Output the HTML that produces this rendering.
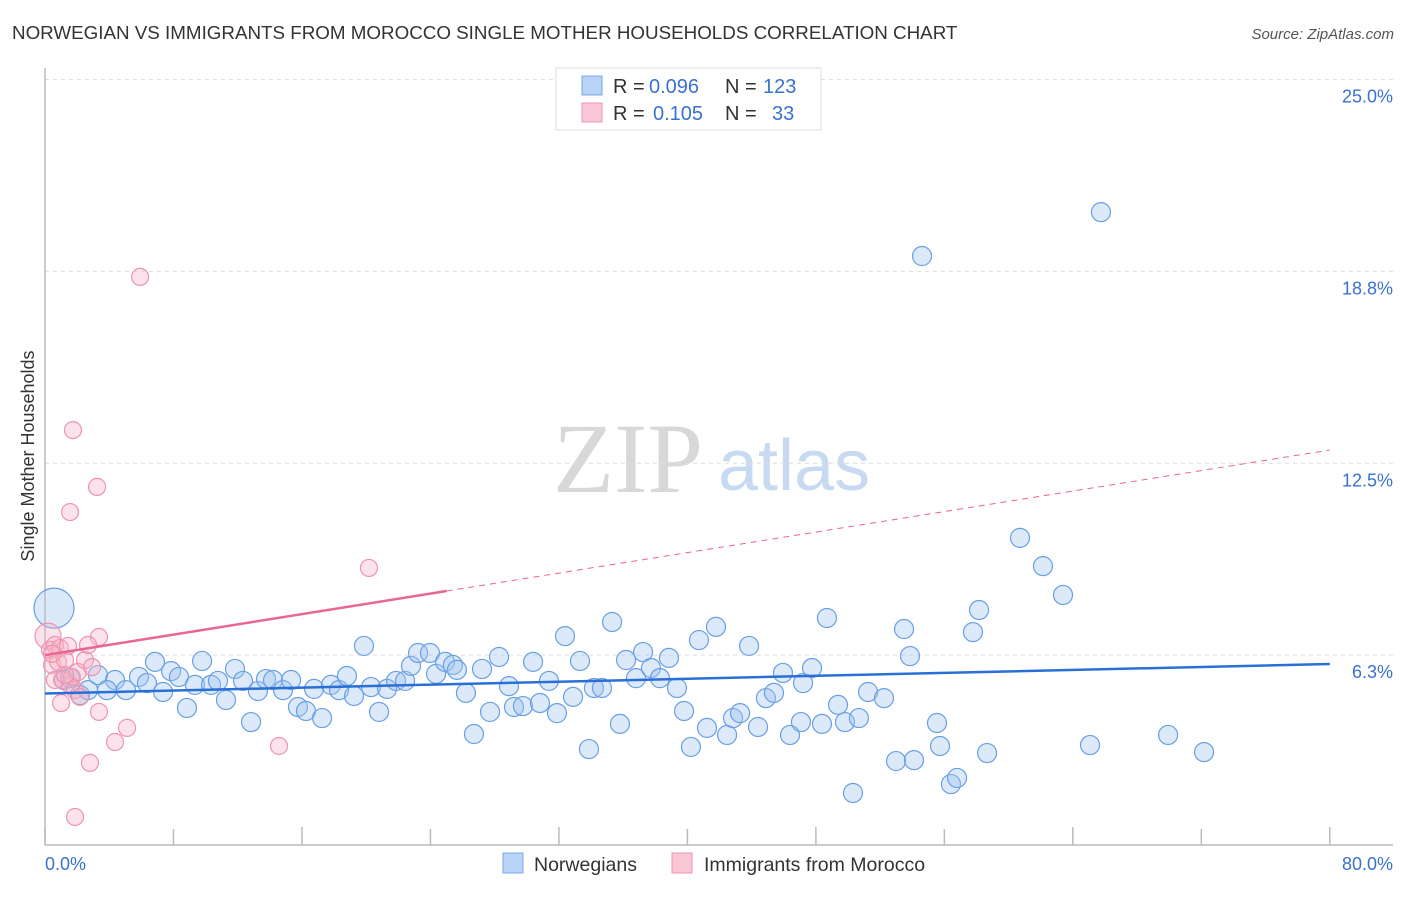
<!DOCTYPE html>
<html><head><meta charset="utf-8"><style>
body{margin:0;background:#fff;font-family:"Liberation Sans",sans-serif;}
</style></head><body>
<svg id="chart" width="1406" height="892" viewBox="0 0 1406 892" xmlns="http://www.w3.org/2000/svg" font-family="Liberation Sans, sans-serif">
<text x="12" y="39" font-size="18.8" fill="#333">NORWEGIAN VS IMMIGRANTS FROM MOROCCO SINGLE MOTHER HOUSEHOLDS CORRELATION CHART</text>
<text x="1394" y="39" font-size="15" fill="#555" text-anchor="end" font-style="italic">Source: ZipAtlas.com</text>
<g>
<text x="553" y="492" font-size="100" fill="#d8d8d8" style="font-family:'Liberation Serif',serif">ZIP</text>
<text x="718" y="490" font-size="72" fill="#c8daf2">atlas</text>
</g>
<g id="grid"></g>
<g id="axes"></g>
<g id="marks"></g>
<g id="trends"></g>
<text transform="translate(34,456) rotate(-90)" font-size="18" fill="#333" text-anchor="middle">Single Mother Households</text>
<g>
<rect x="556" y="68" width="265" height="62" fill="#fff" stroke="#ddd"/>
<rect x="582" y="76" width="20" height="19" fill="#b8d3f5" stroke="#7aa8e8"/>
<rect x="582" y="103" width="20" height="19" fill="#f9c6d5" stroke="#ee94b0"/>
<text x="613" y="93" font-size="20" fill="#333">R =</text>
<text x="649" y="93" font-size="20" fill="#3a72d0">0.096</text>
<text x="725" y="93" font-size="20" fill="#333">N =</text>
<text x="763" y="93" font-size="20" fill="#3a72d0">123</text>
<text x="613" y="120" font-size="20" fill="#333">R =</text>
<text x="653" y="120" font-size="20" fill="#3a72d0">0.105</text>
<text x="725" y="120" font-size="20" fill="#333">N =</text>
<text x="772" y="120" font-size="20" fill="#3a72d0">33</text>
</g>
<g>
<rect x="503" y="853" width="20" height="20" fill="#b8d3f5" stroke="#7aa8e8"/>
<text x="534" y="871" font-size="19.5" fill="#333">Norwegians</text>
<rect x="672" y="853" width="20" height="20" fill="#f9c6d5" stroke="#ee94b0"/>
<text x="704" y="871" font-size="19.5" fill="#333">Immigrants from Morocco</text>
</g>
</svg>
<script>
const yTicks=[25.0,18.75,12.5,6.25];
const yTickLabels=["25.0%","18.8%","12.5%","6.3%"];
const xTickLabels=["0.0%","80.0%"];
const blueX=[0.56,1.18,1.56,2.18,2.68,3.30,4.36,3.86,5.04,5.85,6.35,6.85,7.35,7.85,8.34,8.84,9.34,9.78,10.34,10.77,11.27,11.83,12.33,12.83,13.26,13.76,14.20,14.82,15.32,15.75,16.25,16.75,17.25,17.81,18.31,18.80,19.24,19.86,20.30,20.80,21.30,21.86,22.42,22.79,23.23,23.97,24.35,24.91,25.40,25.65,26.21,26.71,27.21,27.71,28.27,28.89,29.20,29.76,30.39,30.82,31.38,31.88,32.38,32.88,33.31,33.87,34.18,34.68,35.31,35.80,36.18,36.80,37.24,37.73,38.29,38.85,39.35,39.79,40.22,40.72,41.22,41.78,42.47,42.84,43.28,43.84,44.40,44.89,45.39,45.95,46.39,47.07,47.20,47.76,48.38,48.69,49.38,49.81,50.68,50.31,51.25,52.24,52.99,53.49,53.86,54.11,54.61,55.54,55.73,56.41,56.79,57.78,58.16,58.66,60.71,62.14,63.39,65.07,65.75,69.93,72.17];
const blueY=[7.78,5.44,5.50,4.95,5.11,5.60,5.44,5.11,5.11,5.54,5.34,6.03,5.05,5.73,5.54,4.53,5.28,6.06,5.28,5.41,4.79,5.80,5.41,4.07,5.08,5.47,5.44,5.11,5.44,4.56,4.43,5.15,4.20,5.28,5.11,5.57,4.92,6.55,5.21,4.40,5.15,5.41,5.41,5.90,6.32,6.32,5.64,6.03,5.93,5.77,5.02,3.68,5.80,4.40,6.19,5.24,4.56,4.59,6.03,4.69,5.41,4.36,6.87,4.89,6.06,3.19,5.18,5.18,7.33,4.01,6.09,5.50,6.35,5.83,5.50,6.16,5.18,4.43,3.26,6.74,3.88,7.17,3.65,4.20,4.36,6.55,3.91,4.85,5.02,5.67,3.65,4.07,5.34,5.83,4.01,7.46,4.63,4.07,4.20,1.76,5.05,4.85,2.80,7.10,6.22,2.83,19.25,4.04,3.29,2.05,2.25,7.00,7.72,3.06,10.07,9.15,8.21,3.32,20.68,3.65,3.09];
const pinkX=[0.19,0.31,0.62,0.93,0.44,0.81,1.25,1.06,1.56,1.87,2.18,1.68,1.43,2.05,2.49,2.93,0.62,1.00,3.36,3.36,5.11,4.36,2.80,1.87,1.56,3.24,1.74,5.92,20.17,14.57,2.68,0.44,1.25];
const pinkY=[6.87,6.42,6.58,6.48,5.93,6.03,6.09,5.44,5.28,5.11,4.89,5.54,6.55,5.70,6.09,5.86,5.44,4.69,6.84,4.40,3.88,3.42,2.74,0.98,10.91,11.73,13.58,18.57,9.09,3.29,6.58,6.29,5.60];
const blueTrend=[5.0,5.96];
const pinkTrend=[6.25,12.93];
const pinkSolidEnd=25;
const NS="http://www.w3.org/2000/svg";
const X=v=>45+v*16.06, Y=v=>847-v*30.7;
function mk(p,tag,at){const e=document.createElementNS(NS,tag);for(const k in at)e.setAttribute(k,at[k]);p.appendChild(e);return e;}
const grid=document.getElementById('grid'),axes=document.getElementById('axes'),marks=document.getElementById('marks'),trends=document.getElementById('trends');
yTicks.forEach((t,i)=>{
 const g=mk(grid,'line',{x1:45,x2:1393,y1:Y(t),y2:Y(t),stroke:'#ddd','stroke-dasharray':'4,4'});
 
 
 const tx=mk(axes,'text',{x:1393,y:Y(t)+23,'font-size':18,fill:'#3a72d0','text-anchor':'end'});
 tx.textContent=yTickLabels[i];
 
 
});
const ax=mk(axes,'line',{x1:45,x2:1393,y1:845,y2:845,stroke:'#bbb','stroke-width':1.5});


const ay=mk(axes,'line',{x1:45,x2:45,y1:68,y2:845,stroke:'#bbb','stroke-width':1.5});


for(let i=0;i<=10;i++){const v=i*8;const tk=mk(axes,'line',{x1:X(v),x2:X(v),y1:i%2?829:827,y2:845,stroke:'#bbb','stroke-width':1.5});
 
 }
const xl0=mk(axes,'text',{x:45,y:870,'font-size':18,fill:'#3a72d0'});xl0.textContent=xTickLabels[0];


const xl1=mk(axes,'text',{x:1393,y:870,'font-size':18,fill:'#3a72d0','text-anchor':'end'});xl1.textContent=xTickLabels[1];


blueX.forEach((v,i)=>{const c=mk(marks,'circle',{cx:X(v),cy:Y(blueY[i]),r:i===0?20:9.5,fill:'rgba(160,196,240,0.38)',stroke:'#6a9fe4','stroke-width':1.2});
 
 });
pinkX.forEach((v,i)=>{const c=mk(marks,'circle',{cx:X(v),cy:Y(pinkY[i]),r:i===0?13:8.5,fill:'rgba(246,180,200,0.38)',stroke:'#ee94b0','stroke-width':1.2});
 
 });
const bt=mk(trends,'line',{x1:X(0),y1:Y(blueTrend[0]),x2:X(80),y2:Y(blueTrend[1]),stroke:'#2a6fd6','stroke-width':2.5});


const pAt=v=>pinkTrend[0]+(pinkTrend[1]-pinkTrend[0])*v/80;
const ps=mk(trends,'line',{x1:X(0),y1:Y(pAt(0)),x2:X(pinkSolidEnd),y2:Y(pAt(pinkSolidEnd)),stroke:'#e8668f','stroke-width':2.5});


const pd=mk(trends,'line',{x1:X(pinkSolidEnd),y1:Y(pAt(pinkSolidEnd)),x2:X(80),y2:Y(pAt(80)),stroke:'#e8668f','stroke-width':1,'stroke-dasharray':'6,5'});


</script>
</body></html>
